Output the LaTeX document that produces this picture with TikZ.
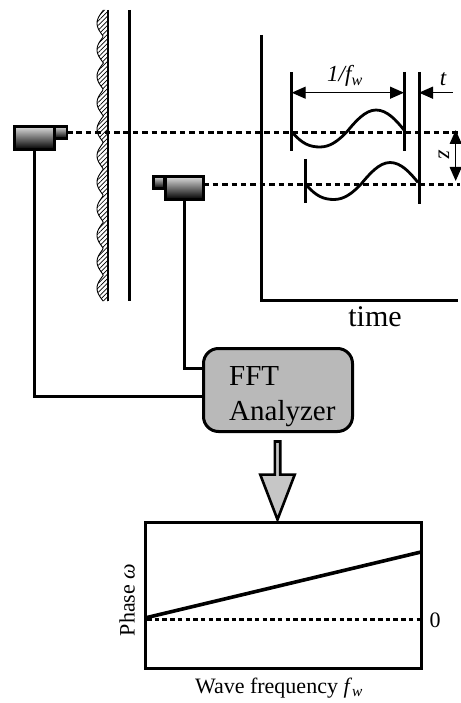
\documentclass[tikz,border=0pt]{standalone}
\usepackage{fontspec}
\setmainfont{Liberation Serif}
\usetikzlibrary{arrows.meta,shapes.arrows,patterns.meta}
\begin{document}
\begin{tikzpicture}[x=1pt,y=-1pt,
  cam/.style={draw=black,line width=2.6pt,top color=gray!25,bottom color=black,inner sep=0pt,outer sep=0pt},
  axisline/.style={line width=3pt},
  tickline/.style={line width=3pt},
  wire/.style={line width=2.8pt},
  beam/.style={line width=2.7pt,dash pattern=on 5.5pt off 3.9pt},
  waveline/.style={line width=2.8pt},
  dimline/.style={line width=1.3pt,{Triangle[length=14pt,width=12pt]}-{Triangle[length=14pt,width=12pt]}},
  smalltext/.style={font=\fontsize{22}{24}\selectfont,inner sep=0pt},
  itext/.style={font=\fontsize{23}{24}\selectfont\itshape,inner sep=0pt},
  bigtext/.style={font=\fontsize{29}{35}\selectfont,inner sep=0pt}]
\useasboundingbox (0,0) rectangle (460,703);
\fill[white] (0,0) rectangle (460,703);
% wall
\fill[pattern={Lines[angle=45,distance=3.2pt,line width=.7pt]}] (108,10)
  -- plot[domain=10:301,samples=160] ({103.5-6.5*abs(sin((\x-10)/26.5*180))},\x) -- (108,301) -- cycle;
\draw[line width=.9pt] plot[domain=10:301,samples=160] ({103.5-6.5*abs(sin((\x-10)/26.5*180))},\x);
\draw[line width=2.4pt] (108,10)--(108,301);
\draw[line width=2.8pt] (129.5,10)--(129.5,301);
% sensors
\node[cam,minimum width=40pt,minimum height=23pt] (bodyA) at (34.4,137.8) {};
\node[cam,minimum width=12pt,minimum height=12pt] (noseA) at (61,132.3) {};
\node[cam,minimum width=38pt,minimum height=23pt] (bodyB) at (184.3,187.8) {};
\node[cam,minimum width=11pt,minimum height=12pt] (noseB) at (159,182.3) {};
\coordinate (beamA) at (460,132.3);
\coordinate (beamB) at (460,184.4);
\draw[beam] (noseA.east)--(beamA);
\draw[beam] (bodyB.east|-beamB)--(beamB);
% analyzer
\node[draw,line width=3pt,fill=gray!55,rounded corners=15pt,minimum width=149pt,minimum height=83pt] (analyzer) at (278,390) {};
\node[bigtext,align=left,anchor=west] (analyzertext) at (229,397) {FFT\\Analyzer};
\coordinate (portA) at (204,396.4);
\coordinate (portB) at (204,368.4);
\draw[wire] (bodyA.south)|-(portA);
\draw[wire] (bodyB.south)|-(portB);
\node[draw,line width=2.6pt,fill=gray!45,single arrow,shape border rotate=270,single arrow head extend=7pt,single arrow tip angle=42,single arrow head indent=0pt,minimum width=34.5pt,minimum height=78pt,inner sep=0pt] (down) at (277.5,477) {};
% time panel
\draw[axisline] (261,35)--(261,300)--(458,300);
\node[font=\fontsize{30}{34}\selectfont,inner sep=0pt] (timelabel) at (375,317) {time};
\foreach \x/\a/\b/\n in {291.7/72.5/151.5/mA,404/72/151/mB,419/72/204/mC,305.7/159/203/mD}{
  \coordinate (\n) at (\x,92.7);
  \draw[tickline] (\x,\a)--(\x,\b);}
\foreach \dx/\dy in {0/0,14/52.5}{
  \draw[waveline,shift={(\dx,\dy)}] (292,132) .. controls (302,144) and (310,147) .. (320,147) .. controls (330,147) and (338,141) .. (346.7,132) .. controls (355,122) and (365,110) .. (376,110) .. controls (387,110) and (396,120) .. (404,130);}
\draw[dimline] (mA)--(mB);
\coordinate (tend) at (453,92.7);
\draw[line width=1.3pt,{Triangle[length=14pt,width=12pt]}-] (mC)--(tend);
\coordinate (zA) at (455.7,130);
\coordinate (zB) at (455.7,181);
\draw[dimline] (zA)--(zB);
\node[itext] (period) at (345,76) {1/f\textsubscript{w}};
\node[itext] (tlabel) at (443,79) {t};
\node[itext,rotate=-90] (zlabel) at (444,155) {z};
% result plot
\node[draw,line width=3pt,minimum width=276pt,minimum height=146pt,inner sep=0pt] (phasebox) at (283.5,595) {};
\coordinate (zeroL) at (147,619.4);
\coordinate (zeroR) at (421,619.4);
\coordinate (slopeL) at (147,617.5);
\coordinate (slopeR) at (421,552);
\draw[line width=2.4pt,dash pattern=on 4.5pt off 3.2pt] (zeroL)--(zeroR);
\draw[line width=3.6pt] (slopeL)--(slopeR);
\node[smalltext] (zerolabel) at (435,620) {0};
\node[smalltext,rotate=90] (phaselabel) at (127,600) {Phase \textit{ω}};
\node[smalltext] (freqlabel) at (279,688) {Wave frequency \textit{f}\textsubscript{\textit{w}}};
\end{tikzpicture}
\end{document}
